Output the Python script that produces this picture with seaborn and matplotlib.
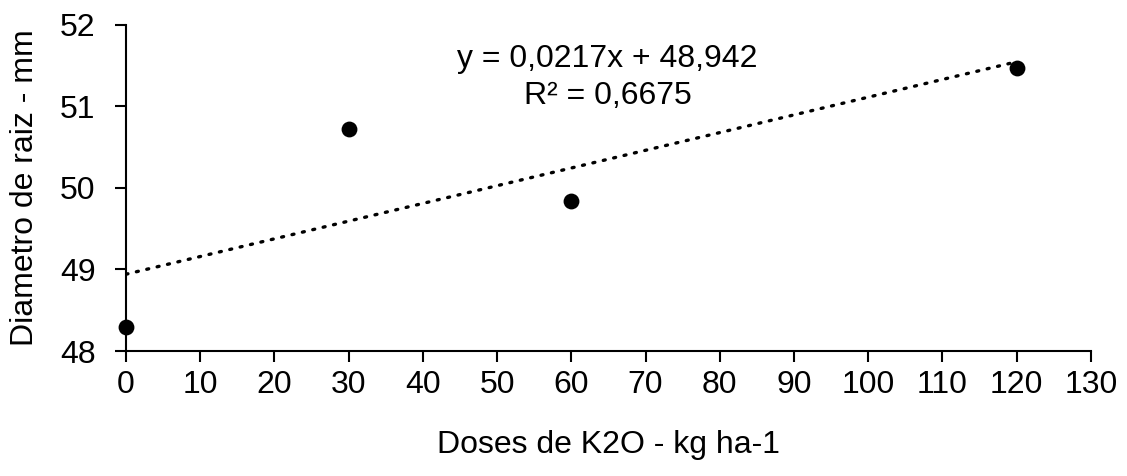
import matplotlib
matplotlib.use("Agg")
import matplotlib.pyplot as plt
import seaborn as sns
import pandas as pd

doses = [0, 30, 60, 120]
diametro = [48.30, 50.72, 49.84, 51.47]
x_ticks = list(range(0, 131, 10))
y_ticks = [48, 49, 50, 51, 52]
eq_text = "y = 0,0217x + 48,942\nR² = 0,6675"

sns.set_theme(style="white")
plt.rcParams['font.family'] = ['Liberation Sans', 'DejaVu Sans']

df = pd.DataFrame({"dose": doses, "diam": diametro})

fig = plt.figure(figsize=(11.27, 4.76), dpi=100)
ax = fig.add_axes([0.1118, 0.2626, 0.8562, 0.6849])

sns.regplot(data=df, x="dose", y="diam", ax=ax, ci=None, scatter=False,
            line_kws=dict(color="black", lw=2.4, linestyle=(0, (0.6, 2.6)),
                          dash_capstyle="round"))
sns.scatterplot(data=df, x="dose", y="diam", ax=ax, color="black", s=130,
                edgecolor="black", linewidth=0, zorder=5, clip_on=False)

ax.set_xlim(0, 130)
ax.set_ylim(48, 52)
ax.set_xticks(x_ticks)
ax.set_yticks(y_ticks)
for s in ["top", "right"]:
    ax.spines[s].set_visible(False)
for s in ["left", "bottom"]:
    ax.spines[s].set_color("black")
    ax.spines[s].set_linewidth(1.5)
ax.tick_params(axis="both", direction="out", length=8, width=1.5,
               colors="black", labelsize=23, bottom=True, left=True)
ax.tick_params(axis="x", pad=6)
ax.tick_params(axis="y", pad=14)

ax.set_xlabel("Doses de K2O - kg ha-1", fontsize=23, labelpad=21, color="black")
ax.set_ylabel("Diametro de raiz - mm", fontsize=23, labelpad=14, color="black")

ax.text(64.9, 51.36, eq_text, ha="center", va="center", fontsize=23,
        linespacing=1.3, color="black")

fig.savefig("out.png", dpi=100)
